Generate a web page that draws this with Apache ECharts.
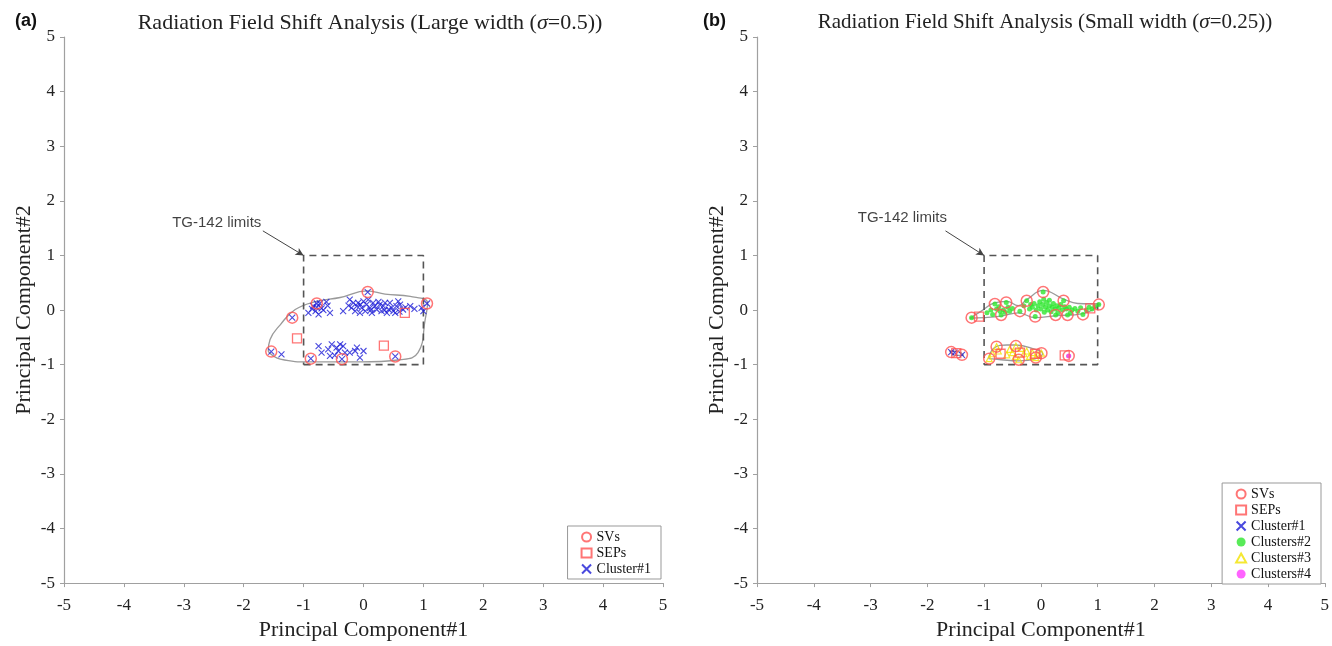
<!DOCTYPE html>
<html>
<head>
<meta charset="utf-8">
<script src="https://cdn.jsdelivr.net/npm/echarts@6/dist/echarts.min.js"></script>
<style>html,body{margin:0;padding:0;background:#fff}#c{width:1332px;height:646px}</style>
</head>
<body>
<div id="c"></div>
<script>
// ---------- DATA ----------
const axisTicks = [-5,-4,-3,-2,-1,0,1,2,3,4,5];
const tgLimitBox = [[-1,-1],[1,-1],[1,1],[-1,1],[-1,-1]];
const tgLabelPosA = [-2.45, 1.60];
const tgLabelPosB = [-2.44, 1.68];
const tgArrowStart = [-1.68, 1.45];
const tgArrowEnd = [-1.0, 1.0];

// Panel (a)
const aSVs = [[-1.54,-0.76],[-1.19,-0.14],[-0.78,0.12],[0.07,0.33],[1.06,0.12],[-0.88,-0.89],[-0.36,-0.90],[0.53,-0.85]];
const aSEPs = [[-1.11,-0.52],[0.34,-0.65],[0.69,-0.05]];
const aCluster1 = [
  [-1.54,-0.76],[-1.19,-0.14],[-0.78,0.12],[0.07,0.33],[1.06,0.12],[-0.88,-0.89],[-0.36,-0.90],[0.53,-0.85],
  [-0.92,-0.05],[-0.86,0.02],[-0.78,0.05],[-0.73,0.12],[-0.67,0.0],[-0.62,0.15],[-0.56,-0.05],[-0.75,-0.08],
  [-0.84,0.07],[-0.70,0.03],[-0.60,0.08],[-0.80,-0.02],[-0.34,-0.02],[-0.23,0.19],[-0.17,0.13],[-0.11,0.07],
  [-0.06,-0.05],[0.0,0.16],[0.05,0.10],[0.11,0.04],[0.16,0.13],[0.22,0.01],[0.27,0.10],[0.33,0.07],
  [0.39,-0.05],[0.44,0.13],[0.50,-0.02],[0.55,0.07],[0.61,0.10],[0.66,0.01],[0.78,0.07],[0.97,0.04],
  [1.0,-0.02],[-0.20,0.04],[-0.09,0.13],[0.03,-0.02],[0.08,0.19],[0.14,-0.05],[0.19,0.07],[0.30,-0.02],
  [0.36,0.13],[0.47,0.04],[0.53,-0.05],[0.58,0.16],[0.42,0.01],[-0.03,0.04],[-0.14,-0.02],[-0.25,0.08],
  [0.25,0.15],[0.12,0.0],[-0.05,0.10],[0.70,0.05],[0.85,0.02],[0.35,0.0],[0.60,-0.03],
  [-0.75,-0.66],[-0.70,-0.78],[-0.59,-0.72],[-0.53,-0.63],[-0.45,-0.69],[-0.39,-0.63],[-0.34,-0.66],
  [-0.42,-0.75],[-0.48,-0.83],[-0.31,-0.78],[-0.23,-0.78],[-0.11,-0.69],[-0.14,-0.75],[-0.06,-0.87],
  [0.0,-0.75],[-0.56,-0.84],[-1.37,-0.81]
];
const aContour = [[-1.59,-0.76],[-1.39,-0.90],[-0.89,-0.95],[-0.06,-0.95],[0.61,-0.91],[0.91,-0.78],[1.03,-0.17],
  [1.07,0.13],[0.78,0.25],[0.36,0.29],[0.06,0.35],[-0.39,0.23],[-0.78,0.16],[-1.14,0.01],[-1.39,-0.27],[-1.56,-0.54],[-1.59,-0.76]];

// Panel (b)
const bSVs = [[-1.22,-0.14],[-0.81,0.11],[-0.61,0.14],[-0.70,-0.09],[-0.37,-0.02],[-0.25,0.17],[0.04,0.33],
  [-0.10,-0.12],[0.26,-0.09],[0.40,0.17],[0.47,-0.09],[0.74,-0.08],[1.02,0.10],
  [-0.91,-0.89],[-0.78,-0.67],[-0.44,-0.66],[-0.39,-0.91],[-0.09,-0.87],[0.01,-0.79],
  [-1.58,-0.77],[-1.39,-0.82],[0.49,-0.84]];
const bSEPs = [[-1.09,-0.12],[0.87,0.03],[-0.71,-0.80],[-0.37,-0.78],[-0.10,-0.80],[-1.49,-0.79],[0.42,-0.83]];
const bCluster1 = [[-1.58,-0.77],[-1.52,-0.78],[-1.39,-0.82]];
const bCluster2 = [
  [-1.22,-0.14],[-0.81,0.11],[-0.61,0.14],[-0.70,-0.09],[-0.37,-0.02],[-0.25,0.17],[0.04,0.33],
  [-0.10,-0.12],[0.26,-0.09],[0.40,0.17],[0.47,-0.09],[0.74,-0.08],[1.02,0.10],
  [-0.95,-0.05],[-0.88,0.0],[-0.85,-0.08],[-0.78,0.02],[-0.74,0.06],[-0.66,0.0],[-0.63,-0.04],
  [-0.58,0.05],[-0.55,-0.02],[-0.72,-0.02],[-0.50,0.03],[-0.15,0.05],[-0.12,0.12],[-0.08,0.0],
  [-0.05,0.08],[-0.02,0.15],[0.0,0.02],[0.03,0.10],[0.06,-0.04],[0.08,0.05],[0.10,0.14],[0.12,0.0],
  [0.15,0.08],[0.18,-0.03],[0.20,0.05],[0.22,0.12],[0.25,0.02],[0.28,0.08],[0.30,-0.05],[0.32,0.04],
  [0.35,0.10],[0.38,0.0],[0.42,0.06],[0.45,0.02],[0.50,0.05],[0.55,0.0],[0.60,0.03],[0.65,-0.02],
  [0.70,0.04],[0.80,0.0],[0.90,0.02],[0.95,0.06],[-0.20,0.02],[-0.18,0.10],[0.05,0.20],[0.15,0.18],
  [-0.30,0.08],[0.52,-0.05],[0.85,0.05]
];
const bCluster3 = [[-0.91,-0.89],[-0.78,-0.67],[-0.44,-0.66],[-0.39,-0.91],[-0.09,-0.87],[0.01,-0.79],
  [-0.85,-0.80],[-0.75,-0.75],[-0.60,-0.82],[-0.55,-0.72],[-0.50,-0.78],[-0.35,-0.70],[-0.30,-0.80],
  [-0.25,-0.75],[-0.20,-0.85],[-0.15,-0.78],[-0.05,-0.82],[-0.45,-0.85]];
const bCluster4 = [[0.49,-0.84]];
const bContourGreen = [[-1.25,-0.15],[-1.05,-0.02],[-0.82,0.13],[-0.60,0.16],[-0.40,0.08],[-0.25,0.19],[0.04,0.36],
  [0.40,0.20],[0.65,0.12],[1.04,0.11],[0.85,-0.03],[0.60,-0.09],[0.30,-0.10],[-0.10,-0.14],[-0.40,-0.05],[-0.70,-0.11],[-1.00,-0.14],[-1.25,-0.15]];
const bContourYellow = [[-0.92,-0.89],[-0.82,-0.69],[-0.60,-0.64],[-0.44,-0.64],[-0.10,-0.72],[0.03,-0.79],[-0.09,-0.89],
  [-0.39,-0.93],[-0.70,-0.91],[-0.92,-0.89]];
const bContourBlue = [[-1.61,-0.75],[-1.45,-0.76],[-1.36,-0.83],[-1.50,-0.83],[-1.61,-0.75]];
const bContourMagenta = [[0.46,-0.82],[0.52,-0.82],[0.52,-0.86],[0.46,-0.86],[0.46,-0.82]];

// ---------- STYLE ----------
const RED = '#ff5252', BLUE = '#1c1cd6', GREEN = '#2ee62e', YELLOW = '#f2e200', MAGENTA = '#ff3cff', GRAY = '#9a9a9a';
const SERIF = 'Liberation Serif';
const XPATH = 'path://M0,0L10,10M10,0L0,10';

function axisCommon(name, gap, labelMargin) {
  return {
    type: 'value', min: -5, max: 5, interval: 1,
    name: name, nameLocation: 'middle', nameGap: gap,
    nameTextStyle: { fontFamily: SERIF, fontSize: 22, color: '#222' },
    axisLine: { show: true, onZero: false, lineStyle: { color: '#a0a0a0', width: 1.2 } },
    axisTick: { show: true, inside: false, length: 4, lineStyle: { color: '#a0a0a0' } },
    axisLabel: { fontFamily: SERIF, fontSize: 17, color: '#222', margin: labelMargin },
    splitLine: { show: false }
  };
}

function panelSeries(idx, list) {
  return list.map(s => Object.assign({ xAxisIndex: idx, yAxisIndex: idx, animation: false }, s));
}

function contour(name, data) {
  return { name: name, type: 'line', data: data, smooth: 0.45, showSymbol: false, symbol: 'none',
    lineStyle: { color: GRAY, width: 1.3 }, silent: true, z: 1 };
}
function box() {
  return { name: 'box', type: 'line', data: tgLimitBox, showSymbol: false, symbol: 'none',
    lineStyle: { color: '#555', width: 1.6, type: [7, 5] }, silent: true, z: 1 };
}
function annot(pos) {
  return { name: 'annot', type: 'scatter', data: [pos], symbolSize: 0, silent: true, z: 5,
    label: { show: true, position: 'inside', formatter: 'TG-142 limits', fontFamily: 'Liberation Sans', fontSize: 15, color: '#111' },
    markLine: { silent: true, symbol: ['none', 'arrow'], symbolSize: [6, 8], animation: false,
      lineStyle: { color: '#444', width: 1, type: 'solid' }, label: { show: false },
      data: [[{ coord: tgArrowStart }, { coord: tgArrowEnd }]] } };
}
function svs(data) {
  return { name: 'SVs', type: 'scatter', data: data, symbol: 'circle', symbolSize: 11,
    itemStyle: { color: 'rgba(0,0,0,0)', borderColor: RED, borderWidth: 1.5 }, z: 4 };
}
function seps(data) {
  return { name: 'SEPs', type: 'scatter', data: data, symbol: 'rect', symbolSize: 9,
    itemStyle: { color: 'rgba(0,0,0,0)', borderColor: RED, borderWidth: 1.3 }, z: 4 };
}
function cl1(data) {
  return { name: 'Cluster#1', type: 'scatter', data: data, symbol: XPATH, symbolSize: 6,
    itemStyle: { color: 'none', borderColor: BLUE, borderWidth: 1.1 }, z: 3 };
}
function titleRich(size) {
  return { n: { fontFamily: SERIF, fontSize: size, fontWeight: 'normal', color: '#222' },
           i: { fontFamily: SERIF, fontStyle: 'italic', fontWeight: 'normal', fontSize: size, color: '#222' } };
}
const legendCommon = { orient: 'vertical', itemWidth: 10, itemHeight: 9, itemGap: 2, padding: [4, 10, 3, 12],
  borderColor: '#999', borderWidth: 1, borderRadius: 0, backgroundColor: '#fff',
  textStyle: { fontFamily: SERIF, fontSize: 14, color: '#111' }, selectedMode: false };

const option = {
  animation: false,
  backgroundColor: '#fff',
  title: [
    { text: '(a)', left: 10, top: 7, textStyle: { fontFamily: 'Liberation Sans', fontWeight: 'bold', fontSize: 18, color: '#111' } },
    { text: '(b)', left: 698, top: 7, textStyle: { fontFamily: 'Liberation Sans', fontWeight: 'bold', fontSize: 18, color: '#111' } },
    { text: '{n|Radiation Field Shift Analysis (Large width (}{i|σ}{n|=0.5))}', left: 365, textAlign: 'center', top: 7,
      textStyle: { fontWeight: 'normal', rich: titleRich(22) } },
    { text: '{n|Radiation Field Shift Analysis (Small width (}{i|σ}{n|=0.25))}', left: 1040, textAlign: 'center', top: 7,
      textStyle: { fontWeight: 'normal', rich: titleRich(21) } }
  ],
  grid: [
    { left: 64, top: 37, width: 599, height: 547 },
    { left: 757, top: 37, width: 570, height: 553 }
  ],
  xAxis: [
    Object.assign(axisCommon('Principal Component#1', 34, 14), { gridIndex: 0 }),
    Object.assign(axisCommon('Principal Component#1', 34, 14), { gridIndex: 1 })
  ],
  yAxis: [
    Object.assign(axisCommon('Principal Component#2', 29, 9), { gridIndex: 0 }),
    Object.assign(axisCommon('Principal Component#2', 29, 9), { gridIndex: 1 })
  ],
  legend: [
    Object.assign({ data: ['SVs', 'SEPs', 'Cluster#1'], right: 671, bottom: 67 }, legendCommon),
    Object.assign({ data: ['SVs', 'SEPs', 'Cluster#1', 'Clusters#2', 'Clusters#3', 'Clusters#4'], right: 11, bottom: 62 }, legendCommon)
  ],
  series: [].concat(
    panelSeries(0, [contour('c_a', aContour), box(), annot(tgLabelPosA), cl1(aCluster1), svs(aSVs), seps(aSEPs)]),
    panelSeries(1, [
      contour('c_g', bContourGreen), contour('c_y', bContourYellow), contour('c_b', bContourBlue), contour('c_m', bContourMagenta),
      box(), annot(tgLabelPosB), cl1(bCluster1),
      { name: 'Clusters#2', type: 'scatter', data: bCluster2, symbol: 'circle', symbolSize: 5, itemStyle: { color: GREEN }, z: 3 },
      { name: 'Clusters#3', type: 'scatter', data: bCluster3, symbol: 'triangle', symbolSize: 6, itemStyle: { color: 'rgba(0,0,0,0)', borderColor: YELLOW, borderWidth: 1.2 }, z: 3 },
      { name: 'Clusters#4', type: 'scatter', data: bCluster4, symbol: 'circle', symbolSize: 5, itemStyle: { color: MAGENTA }, z: 3 },
      svs(bSVs), seps(bSEPs)
    ])
  )
};

const chart = echarts.init(document.getElementById('c'), null, { renderer: 'canvas' });
chart.setOption(option);
</script>
</body>
</html>
